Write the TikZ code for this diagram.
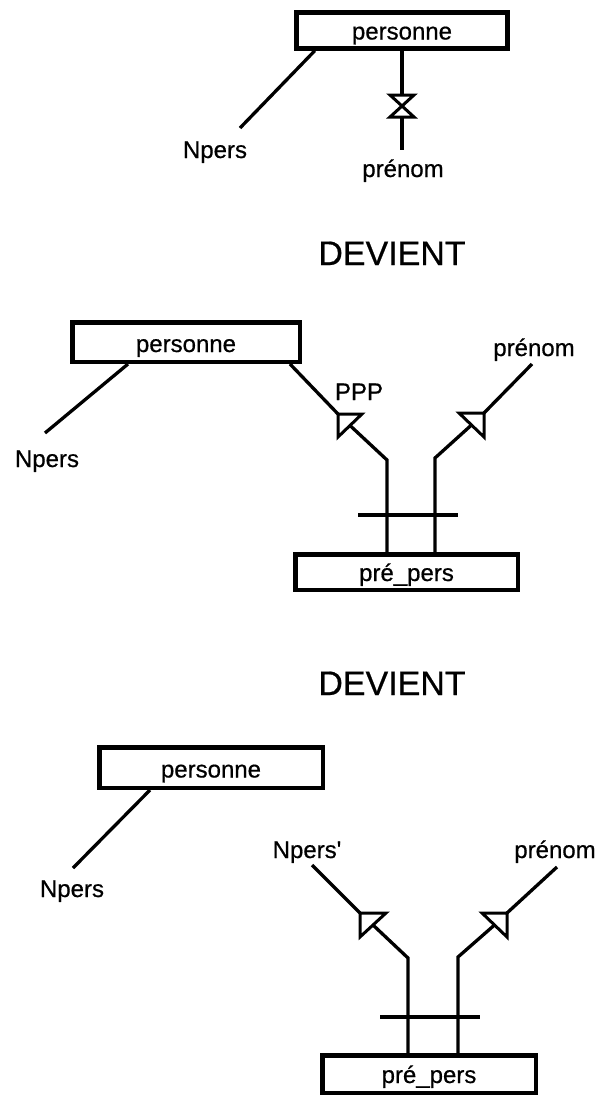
\documentclass[tikz,border=0pt]{standalone}
\usepackage{fontspec}
\setmainfont{Liberation Sans}[Ligatures=TeXOff, FakeBold=0.6]
\usetikzlibrary{calc}
\begin{document}
\begin{tikzpicture}[x=1pt,y=-1pt,
  font=\fontsize{24}{28}\selectfont,
  ebox/.style 2 args={draw, line width=4.5pt, minimum width=#1, minimum height=#2, inner sep=0pt},
  conn/.style={line width=3.3pt},
  sym/.style={line width=3pt, line join=miter},
  lbl/.style={anchor=base, inner sep=0pt},
  big/.style={anchor=base, inner sep=0pt, font=\fontsize{34}{40}\selectfont}]
\useasboundingbox (0,0) rectangle (601,1101);

% ---------- first schema ----------
\node[ebox={211pt}{36pt}] (p1) at (402,30.5) {};
\node[lbl] (p1t) at ($(p1.center)+(0,9)$) {personne};
\node[lbl] (np1) at (215,158) {Npers};
\node[lbl] (pr1) at (403,177) {prénom};
\coordinate (np1e) at (240,128);
\coordinate (hgt) at (402,95);
\coordinate (hgb) at (402,117);
\coordinate (pr1e) at (402,150);
\draw[conn] ([xshift=20.5pt]p1.south west) -- (np1e);
\draw[conn] (p1.south) -- (hgt);
\draw[sym] ([xshift=-12pt]hgt) -- ([xshift=12pt]hgt) -- ([xshift=-12pt]hgb) -- ([xshift=12pt]hgb) -- cycle;
\draw[conn] (hgb) -- (pr1e);

\node[big] (dev1) at (392,265) {DEVIENT};

% ---------- second schema ----------
\node[ebox={227.5pt}{39.5pt}] (p2) at (186,342) {};
\node[lbl] (p2t) at ($(p2.center)+(0,10)$) {personne};
\node[ebox={222.5pt}{35.5pt}] (pp2) at (406.5,572) {};
\node[lbl] (pp2t) at ($(pp2.center)+(0,9)$) {pré\_pers};
\node[lbl] (np2) at (47,467) {Npers};
\node[lbl] (ppp) at (359,400) {PPP};
\node[lbl] (pr2) at (534,356) {prénom};
\coordinate (np2e) at (45,433);
\draw[conn] ([xshift=58pt]p2.south west) -- (np2e);
% left role towards personne
\coordinate (a2l) at (338,414);
\coordinate (m2l) at (350,425.5);
\coordinate (b2l) at (387,460);
\draw[conn] ([xshift=-12pt]p2.south east) -- (a2l);
\draw[sym] (a2l) -- ++(24,0) -- ++(-24,23) -- cycle;
\draw[conn] (m2l) -- (b2l) -- (b2l |- pp2.north);
% right role towards prenom
\coordinate (a2r) at (484,413);
\coordinate (m2r) at (471.5,425);
\coordinate (b2r) at (435,458);
\coordinate (pr2e) at (532,364);
\draw[conn] (a2r) -- (pr2e);
\draw[sym] (a2r) -- ++(-25,0) -- ++(25,24) -- cycle;
\draw[conn] (m2r) -- (b2r) -- (b2r |- pp2.north);
% identifier bar
\coordinate (x2l) at (358,515);
\coordinate (x2r) at (458,515);
\draw[conn] (x2l) -- (x2r);

\node[big] (dev2) at (392,695) {DEVIENT};

% ---------- third schema ----------
\node[ebox={223.5pt}{40.5pt}] (p3) at (211,767.5) {};
\node[lbl] (p3t) at ($(p3.center)+(0,10)$) {personne};
\node[ebox={213.5pt}{37.5pt}] (pp3) at (429,1074) {};
\node[lbl] (pp3t) at ($(pp3.center)+(0,9)$) {pré\_pers};
\node[lbl] (np3) at (72,897) {Npers};
\node[lbl] (npp3) at (307,858) {Npers'};
\node[lbl] (pr3) at (555,858) {prénom};
\coordinate (np3e) at (73,868);
\draw[conn] ([xshift=53pt]p3.south west) -- (np3e);
% left role
\coordinate (n3s) at (312,865);
\coordinate (a3l) at (360,913);
\coordinate (m3l) at (373,925);
\coordinate (b3l) at (408,958);
\draw[conn] (n3s) -- (a3l);
\draw[sym] (a3l) -- ++(26,0) -- ++(-26,24) -- cycle;
\draw[conn] (m3l) -- (b3l) -- (b3l |- pp3.north);
% right role
\coordinate (a3r) at (507,913);
\coordinate (m3r) at (494.5,925);
\coordinate (b3r) at (458,957);
\coordinate (pr3e) at (557,867);
\draw[conn] (a3r) -- (pr3e);
\draw[sym] (a3r) -- ++(-25,0) -- ++(25,24) -- cycle;
\draw[conn] (m3r) -- (b3r) -- (b3r |- pp3.north);
% identifier bar
\coordinate (x3l) at (380,1017);
\coordinate (x3r) at (480,1017);
\draw[conn] (x3l) -- (x3r);
\end{tikzpicture}
\end{document}
